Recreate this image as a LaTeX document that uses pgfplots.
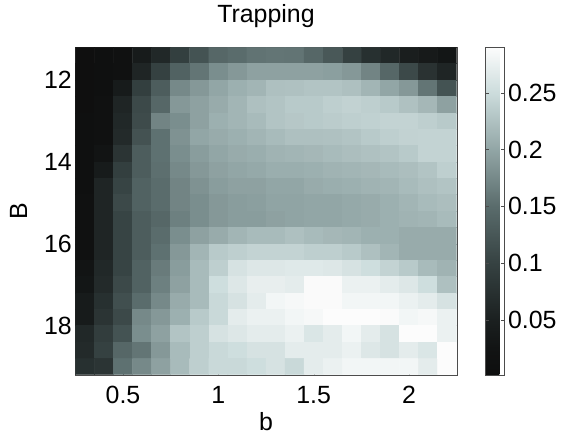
\documentclass[border=0pt]{standalone}
\usepackage{fontspec}
\setmainfont{Liberation Sans}
\usepackage{pgfplots}
\pgfplotsset{compat=1.18}

% grey map with the slight cyan cast of the original, positions = value*1000
\pgfplotsset{colormap={trap}{
  rgb255(1.5pt)=(14,14,14) rgb255(25pt)=(18,20,20) rgb255(50pt)=(27,32,32)
  rgb255(100pt)=(54,66,66) rgb255(150pt)=(90,108,108) rgb255(200pt)=(146,166,166)
  rgb255(250pt)=(204,220,220) rgb255(290pt)=(252,252,252)}}
\newcommand{\lbl}{\fontsize{25}{28}\selectfont}

\begin{document}
\begin{tikzpicture}
\path[use as bounding box] (-75.3bp,-64.3bp) rectangle (508.7bp,374.7bp);
\begin{axis}[
  scale only axis, width=381.4bp, height=327.4bp,
  at={(0,0)}, anchor=south west,
  xmin=0.25, xmax=2.25, ymin=11.2, ymax=19.2, y dir=reverse,
  xtick={0.5,1,1.5,2}, ytick={12,14,16,18},
  xticklabels={0.5,1,1.5,2},
  tick align=inside, major tick length=4bp,
  axis line style={black!70}, tick style={black!70},
  /pgf/number format/assume math mode=true,
  tick label style={font=\lbl},
  xticklabel style={yshift=-8bp},
  label style={font=\lbl},
  xlabel={b}, ylabel={B},
  xlabel style={yshift=-2bp}, ylabel shift=10bp,
  title={Trapping},
  title style={font=\lbl, at={(0.5,1)}, anchor=base, yshift=19bp},
  colormap name=trap,
  point meta min=0.0015, point meta max=0.29,
  colorbar,
  colorbar style={
    width=19.3bp, at={(parent axis.north east)}, anchor=north west, xshift=20bp,
    ytick={0.05,0.1,0.15,0.2,0.25},
    yticklabels={0.05,0.1,0.15,0.2,0.25},
    tick align=inside, major tick length=4bp,
    ytick pos=both, yticklabel pos=right,
    axis line style={black!70}, tick style={black!70},
    tick label style={font=\lbl},
  },
]
\addplot[matrix plot*, mesh/cols=20, point meta=explicit] table[row sep=\\, meta=c] {
x y c \\
0.3 11.4 0.005 \\ 0.4 11.4 0.008 \\ 0.5 11.4 0.015 \\ 0.6 11.4 0.040 \\ 0.7 11.4 0.062 \\ 0.8 11.4 0.095 \\ 0.9 11.4 0.120 \\ 1.0 11.4 0.144 \\ 1.1 11.4 0.150 \\ 1.2 11.4 0.156 \\ 1.3 11.4 0.158 \\ 1.4 11.4 0.157 \\ 1.5 11.4 0.144 \\ 1.6 11.4 0.126 \\ 1.7 11.4 0.098 \\ 1.8 11.4 0.073 \\ 1.9 11.4 0.062 \\ 2.0 11.4 0.046 \\ 2.1 11.4 0.038 \\ 2.2 11.4 0.029 \\
0.3 11.8 0.005 \\ 0.4 11.8 0.008 \\ 0.5 11.8 0.015 \\ 0.6 11.8 0.058 \\ 0.7 11.8 0.098 \\ 0.8 11.8 0.138 \\ 0.9 11.8 0.158 \\ 1.0 11.8 0.179 \\ 1.1 11.8 0.188 \\ 1.2 11.8 0.196 \\ 1.3 11.8 0.196 \\ 1.4 11.8 0.196 \\ 1.5 11.8 0.196 \\ 1.6 11.8 0.194 \\ 1.7 11.8 0.188 \\ 1.8 11.8 0.171 \\ 1.9 11.8 0.144 \\ 2.0 11.8 0.108 \\ 2.1 11.8 0.077 \\ 2.2 11.8 0.058 \\
0.3 12.2 0.005 \\ 0.4 12.2 0.008 \\ 0.5 12.2 0.040 \\ 0.6 12.2 0.095 \\ 0.7 12.2 0.132 \\ 0.8 12.2 0.175 \\ 0.9 12.2 0.188 \\ 1.0 12.2 0.200 \\ 1.1 12.2 0.209 \\ 1.2 12.2 0.214 \\ 1.3 12.2 0.224 \\ 1.4 12.2 0.225 \\ 1.5 12.2 0.228 \\ 1.6 12.2 0.228 \\ 1.7 12.2 0.224 \\ 1.8 12.2 0.214 \\ 1.9 12.2 0.200 \\ 2.0 12.2 0.188 \\ 2.1 12.2 0.158 \\ 2.2 12.2 0.120 \\
0.3 12.6 0.005 \\ 0.4 12.6 0.012 \\ 0.5 12.6 0.058 \\ 0.6 12.6 0.108 \\ 0.7 12.6 0.144 \\ 0.8 12.6 0.188 \\ 0.9 12.6 0.196 \\ 1.0 12.6 0.205 \\ 1.1 12.6 0.214 \\ 1.2 12.6 0.224 \\ 1.3 12.6 0.228 \\ 1.4 12.6 0.233 \\ 1.5 12.6 0.233 \\ 1.6 12.6 0.238 \\ 1.7 12.6 0.241 \\ 1.8 12.6 0.238 \\ 1.9 12.6 0.233 \\ 2.0 12.6 0.225 \\ 2.1 12.6 0.216 \\ 2.2 12.6 0.196 \\
0.3 13.0 0.008 \\ 0.4 13.0 0.015 \\ 0.5 13.0 0.062 \\ 0.6 13.0 0.111 \\ 0.7 13.0 0.171 \\ 0.8 13.0 0.179 \\ 0.9 13.0 0.196 \\ 1.0 13.0 0.209 \\ 1.1 13.0 0.214 \\ 1.2 13.0 0.219 \\ 1.3 13.0 0.228 \\ 1.4 13.0 0.231 \\ 1.5 13.0 0.233 \\ 1.6 13.0 0.235 \\ 1.7 13.0 0.238 \\ 1.8 13.0 0.240 \\ 1.9 13.0 0.242 \\ 2.0 13.0 0.242 \\ 2.1 13.0 0.238 \\ 2.2 13.0 0.233 \\
0.3 13.4 0.008 \\ 0.4 13.4 0.015 \\ 0.5 13.4 0.065 \\ 0.6 13.4 0.119 \\ 0.7 13.4 0.154 \\ 0.8 13.4 0.183 \\ 0.9 13.4 0.200 \\ 1.0 13.4 0.205 \\ 1.1 13.4 0.209 \\ 1.2 13.4 0.214 \\ 1.3 13.4 0.219 \\ 1.4 13.4 0.224 \\ 1.5 13.4 0.224 \\ 1.6 13.4 0.225 \\ 1.7 13.4 0.228 \\ 1.8 13.4 0.233 \\ 1.9 13.4 0.238 \\ 2.0 13.4 0.241 \\ 2.1 13.4 0.242 \\ 2.2 13.4 0.242 \\
0.3 13.8 0.008 \\ 0.4 13.8 0.025 \\ 0.5 13.8 0.080 \\ 0.6 13.8 0.132 \\ 0.7 13.8 0.154 \\ 0.8 13.8 0.179 \\ 0.9 13.8 0.192 \\ 1.0 13.8 0.200 \\ 1.1 13.8 0.205 \\ 1.2 13.8 0.207 \\ 1.3 13.8 0.212 \\ 1.4 13.8 0.214 \\ 1.5 13.8 0.216 \\ 1.6 13.8 0.219 \\ 1.7 13.8 0.222 \\ 1.8 13.8 0.225 \\ 1.9 13.8 0.228 \\ 2.0 13.8 0.233 \\ 2.1 13.8 0.242 \\ 2.2 13.8 0.242 \\
0.3 14.2 0.008 \\ 0.4 14.2 0.040 \\ 0.5 14.2 0.095 \\ 0.6 14.2 0.132 \\ 0.7 14.2 0.153 \\ 0.8 14.2 0.175 \\ 0.9 14.2 0.188 \\ 1.0 14.2 0.196 \\ 1.1 14.2 0.200 \\ 1.2 14.2 0.203 \\ 1.3 14.2 0.207 \\ 1.4 14.2 0.207 \\ 1.5 14.2 0.209 \\ 1.6 14.2 0.212 \\ 1.7 14.2 0.214 \\ 1.8 14.2 0.216 \\ 1.9 14.2 0.219 \\ 2.0 14.2 0.222 \\ 2.1 14.2 0.228 \\ 2.2 14.2 0.238 \\
0.3 14.6 0.008 \\ 0.4 14.6 0.058 \\ 0.5 14.6 0.102 \\ 0.6 14.6 0.138 \\ 0.7 14.6 0.150 \\ 0.8 14.6 0.171 \\ 0.9 14.6 0.183 \\ 1.0 14.6 0.192 \\ 1.1 14.6 0.196 \\ 1.2 14.6 0.196 \\ 1.3 14.6 0.200 \\ 1.4 14.6 0.200 \\ 1.5 14.6 0.205 \\ 1.6 14.6 0.207 \\ 1.7 14.6 0.209 \\ 1.8 14.6 0.212 \\ 1.9 14.6 0.214 \\ 2.0 14.6 0.219 \\ 2.1 14.6 0.224 \\ 2.2 14.6 0.228 \\
0.3 15.0 0.012 \\ 0.4 15.0 0.058 \\ 0.5 15.0 0.108 \\ 0.6 15.0 0.138 \\ 0.7 15.0 0.150 \\ 0.8 15.0 0.171 \\ 0.9 15.0 0.179 \\ 1.0 15.0 0.188 \\ 1.1 15.0 0.192 \\ 1.2 15.0 0.194 \\ 1.3 15.0 0.198 \\ 1.4 15.0 0.198 \\ 1.5 15.0 0.200 \\ 1.6 15.0 0.200 \\ 1.7 15.0 0.203 \\ 1.8 15.0 0.205 \\ 1.9 15.0 0.209 \\ 2.0 15.0 0.214 \\ 2.1 15.0 0.219 \\ 2.2 15.0 0.222 \\
0.3 15.4 0.012 \\ 0.4 15.4 0.058 \\ 0.5 15.4 0.102 \\ 0.6 15.4 0.132 \\ 0.7 15.4 0.144 \\ 0.8 15.4 0.167 \\ 0.9 15.4 0.179 \\ 1.0 15.4 0.188 \\ 1.1 15.4 0.192 \\ 1.2 15.4 0.192 \\ 1.3 15.4 0.196 \\ 1.4 15.4 0.198 \\ 1.5 15.4 0.200 \\ 1.6 15.4 0.200 \\ 1.7 15.4 0.203 \\ 1.8 15.4 0.205 \\ 1.9 15.4 0.209 \\ 2.0 15.4 0.212 \\ 2.1 15.4 0.214 \\ 2.2 15.4 0.219 \\
0.3 15.8 0.012 \\ 0.4 15.8 0.058 \\ 0.5 15.8 0.102 \\ 0.6 15.8 0.132 \\ 0.7 15.8 0.150 \\ 0.8 15.8 0.179 \\ 0.9 15.8 0.196 \\ 1.0 15.8 0.205 \\ 1.1 15.8 0.214 \\ 1.2 15.8 0.219 \\ 1.3 15.8 0.219 \\ 1.4 15.8 0.224 \\ 1.5 15.8 0.219 \\ 1.6 15.8 0.216 \\ 1.7 15.8 0.214 \\ 1.8 15.8 0.209 \\ 1.9 15.8 0.209 \\ 2.0 15.8 0.205 \\ 2.1 15.8 0.205 \\ 2.2 15.8 0.205 \\
0.3 16.2 0.015 \\ 0.4 16.2 0.058 \\ 0.5 16.2 0.102 \\ 0.6 16.2 0.132 \\ 0.7 16.2 0.154 \\ 0.8 16.2 0.188 \\ 0.9 16.2 0.214 \\ 1.0 16.2 0.233 \\ 1.1 16.2 0.238 \\ 1.2 16.2 0.242 \\ 1.3 16.2 0.242 \\ 1.4 16.2 0.242 \\ 1.5 16.2 0.238 \\ 1.6 16.2 0.238 \\ 1.7 16.2 0.233 \\ 1.8 16.2 0.224 \\ 1.9 16.2 0.214 \\ 2.0 16.2 0.205 \\ 2.1 16.2 0.205 \\ 2.2 16.2 0.205 \\
0.3 16.6 0.025 \\ 0.4 16.6 0.062 \\ 0.5 16.6 0.102 \\ 0.6 16.6 0.138 \\ 0.7 16.6 0.163 \\ 0.8 16.6 0.192 \\ 0.9 16.6 0.219 \\ 1.0 16.6 0.238 \\ 1.1 16.6 0.258 \\ 1.2 16.6 0.264 \\ 1.3 16.6 0.264 \\ 1.4 16.6 0.266 \\ 1.5 16.6 0.266 \\ 1.6 16.6 0.264 \\ 1.7 16.6 0.258 \\ 1.8 16.6 0.252 \\ 1.9 16.6 0.242 \\ 2.0 16.6 0.233 \\ 2.1 16.6 0.219 \\ 2.2 16.6 0.212 \\
0.3 17.0 0.029 \\ 0.4 17.0 0.065 \\ 0.5 17.0 0.108 \\ 0.6 17.0 0.138 \\ 0.7 17.0 0.167 \\ 0.8 17.0 0.196 \\ 0.9 17.0 0.219 \\ 1.0 17.0 0.252 \\ 1.1 17.0 0.264 \\ 1.2 17.0 0.273 \\ 1.3 17.0 0.273 \\ 1.4 17.0 0.270 \\ 1.5 17.0 0.288 \\ 1.6 17.0 0.288 \\ 1.7 17.0 0.276 \\ 1.8 17.0 0.276 \\ 1.9 17.0 0.270 \\ 2.0 17.0 0.264 \\ 2.1 17.0 0.252 \\ 2.2 17.0 0.224 \\
0.3 17.4 0.040 \\ 0.4 17.4 0.073 \\ 0.5 17.4 0.115 \\ 0.6 17.4 0.150 \\ 0.7 17.4 0.175 \\ 0.8 17.4 0.205 \\ 0.9 17.4 0.219 \\ 1.0 17.4 0.247 \\ 1.1 17.4 0.258 \\ 1.2 17.4 0.270 \\ 1.3 17.4 0.282 \\ 1.4 17.4 0.285 \\ 1.5 17.4 0.288 \\ 1.6 17.4 0.288 \\ 1.7 17.4 0.282 \\ 1.8 17.4 0.282 \\ 1.9 17.4 0.282 \\ 2.0 17.4 0.276 \\ 2.1 17.4 0.270 \\ 2.2 17.4 0.258 \\
0.3 17.8 0.040 \\ 0.4 17.8 0.080 \\ 0.5 17.8 0.108 \\ 0.6 17.8 0.175 \\ 0.7 17.8 0.188 \\ 0.8 17.8 0.209 \\ 0.9 17.8 0.233 \\ 1.0 17.8 0.247 \\ 1.1 17.8 0.270 \\ 1.2 17.8 0.276 \\ 1.3 17.8 0.276 \\ 1.4 17.8 0.282 \\ 1.5 17.8 0.285 \\ 1.6 17.8 0.290 \\ 1.7 17.8 0.290 \\ 1.8 17.8 0.290 \\ 1.9 17.8 0.288 \\ 2.0 17.8 0.282 \\ 2.1 17.8 0.285 \\ 2.2 17.8 0.276 \\
0.3 18.2 0.062 \\ 0.4 18.2 0.092 \\ 0.5 18.2 0.120 \\ 0.6 18.2 0.179 \\ 0.7 18.2 0.196 \\ 0.8 18.2 0.228 \\ 0.9 18.2 0.238 \\ 1.0 18.2 0.258 \\ 1.1 18.2 0.264 \\ 1.2 18.2 0.270 \\ 1.3 18.2 0.270 \\ 1.4 18.2 0.276 \\ 1.5 18.2 0.262 \\ 1.6 18.2 0.270 \\ 1.7 18.2 0.282 \\ 1.8 18.2 0.270 \\ 1.9 18.2 0.258 \\ 2.0 18.2 0.290 \\ 2.1 18.2 0.290 \\ 2.2 18.2 0.276 \\
0.3 18.6 0.065 \\ 0.4 18.6 0.098 \\ 0.5 18.6 0.144 \\ 0.6 18.6 0.158 \\ 0.7 18.6 0.188 \\ 0.8 18.6 0.219 \\ 0.9 18.6 0.238 \\ 1.0 18.6 0.247 \\ 1.1 18.6 0.252 \\ 1.2 18.6 0.258 \\ 1.3 18.6 0.258 \\ 1.4 18.6 0.270 \\ 1.5 18.6 0.270 \\ 1.6 18.6 0.270 \\ 1.7 18.6 0.276 \\ 1.8 18.6 0.264 \\ 1.9 18.6 0.258 \\ 2.0 18.6 0.270 \\ 2.1 18.6 0.262 \\ 2.2 18.6 0.290 \\
0.3 19.0 0.073 \\ 0.4 19.0 0.080 \\ 0.5 19.0 0.154 \\ 0.6 19.0 0.175 \\ 0.7 19.0 0.196 \\ 0.8 19.0 0.219 \\ 0.9 19.0 0.238 \\ 1.0 19.0 0.247 \\ 1.1 19.0 0.247 \\ 1.2 19.0 0.252 \\ 1.3 19.0 0.258 \\ 1.4 19.0 0.247 \\ 1.5 19.0 0.270 \\ 1.6 19.0 0.276 \\ 1.7 19.0 0.282 \\ 1.8 19.0 0.282 \\ 1.9 19.0 0.282 \\ 2.0 19.0 0.282 \\ 2.1 19.0 0.270 \\ 2.2 19.0 0.290 \\
};
\end{axis}
\end{tikzpicture}
\end{document}
